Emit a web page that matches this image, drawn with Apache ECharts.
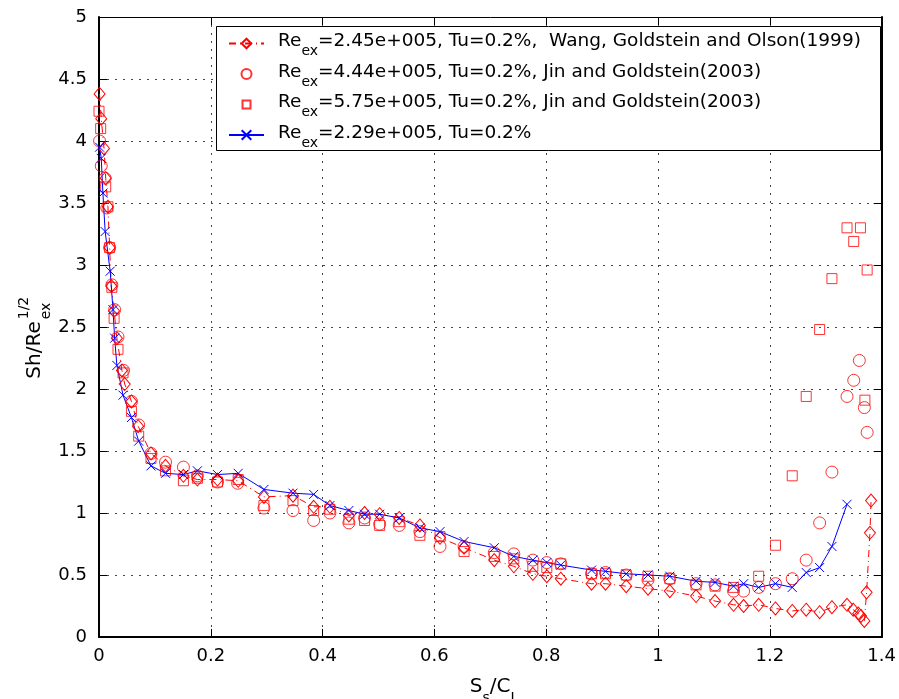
<!DOCTYPE html>
<html>
<head>
<meta charset="utf-8">
<script src="https://cdn.jsdelivr.net/npm/echarts@6/dist/echarts.min.js"></script>
<style>html,body{margin:0;padding:0;background:#fff;}#c{width:899px;height:699px;}</style>
</head>
<body>
<div id="c"></div>
<script>
// ---- data ----
const wangData = [[0.001,4.38],[0.004,4.18],[0.009,3.94],[0.012,3.70],[0.016,3.47],[0.019,3.14],[0.022,2.83],[0.027,2.63],[0.032,2.41],[0.041,2.15],[0.046,2.04],[0.058,1.90],[0.070,1.70],[0.093,1.48],[0.119,1.38],[0.151,1.30],[0.176,1.27],[0.212,1.27],[0.249,1.26],[0.295,1.13],[0.347,1.14],[0.384,1.05],[0.413,1.05],[0.447,0.98],[0.475,1.00],[0.502,0.99],[0.537,0.96],[0.574,0.90],[0.610,0.80],[0.653,0.72],[0.707,0.62],[0.742,0.57],[0.776,0.51],[0.801,0.49],[0.826,0.47],[0.881,0.43],[0.906,0.43],[0.943,0.41],[0.982,0.39],[1.021,0.37],[1.068,0.33],[1.102,0.29],[1.135,0.26],[1.153,0.25],[1.180,0.26],[1.210,0.23],[1.240,0.21],[1.265,0.22],[1.289,0.20],[1.311,0.24],[1.338,0.26],[1.349,0.22],[1.358,0.19],[1.363,0.17],[1.369,0.13],[1.373,0.36],[1.379,0.84],[1.381,1.10]];
const jin444Data = [[0.001,4.00],[0.004,3.80],[0.011,3.70],[0.014,3.46],[0.019,3.14],[0.023,2.84],[0.028,2.64],[0.034,2.42],[0.044,2.15],[0.058,1.90],[0.071,1.71],[0.093,1.48],[0.119,1.41],[0.151,1.37],[0.176,1.30],[0.212,1.25],[0.248,1.24],[0.295,1.04],[0.347,1.02],[0.384,0.94],[0.413,1.00],[0.447,0.92],[0.475,0.96],[0.502,0.91],[0.537,0.90],[0.574,0.85],[0.610,0.73],[0.653,0.73],[0.707,0.68],[0.742,0.67],[0.776,0.62],[0.801,0.60],[0.826,0.59],[0.881,0.51],[0.906,0.52],[0.943,0.50],[0.982,0.46],[1.021,0.47],[1.068,0.43],[1.102,0.42],[1.135,0.37],[1.153,0.37],[1.180,0.40],[1.210,0.43],[1.240,0.47],[1.265,0.62],[1.289,0.92],[1.311,1.33],[1.338,1.94],[1.350,2.07],[1.360,2.23],[1.369,1.85],[1.374,1.65]];
const jin575Data = [[0.000,4.24],[0.003,4.10],[0.012,3.63],[0.016,3.47],[0.019,3.14],[0.023,2.82],[0.027,2.57],[0.034,2.32],[0.043,2.13],[0.058,1.82],[0.071,1.62],[0.093,1.44],[0.119,1.34],[0.151,1.26],[0.176,1.28],[0.212,1.25],[0.249,1.27],[0.295,1.06],[0.347,1.10],[0.384,1.02],[0.413,1.03],[0.447,0.95],[0.475,0.94],[0.502,0.90],[0.537,0.93],[0.574,0.82],[0.610,0.81],[0.653,0.69],[0.707,0.65],[0.742,0.63],[0.776,0.57],[0.801,0.56],[0.826,0.59],[0.881,0.51],[0.906,0.51],[0.943,0.50],[0.982,0.49],[1.021,0.47],[1.068,0.42],[1.102,0.41],[1.135,0.40],[1.180,0.49],[1.210,0.74],[1.240,1.30],[1.265,1.94],[1.289,2.48],[1.311,2.89],[1.338,3.30],[1.350,3.19],[1.362,3.30],[1.374,2.96],[1.370,1.91]];
const presentData = [[0.001,3.95],[0.004,3.86],[0.007,3.58],[0.011,3.27],[0.020,2.95],[0.025,2.64],[0.028,2.41],[0.032,2.19],[0.043,1.95],[0.058,1.77],[0.071,1.58],[0.093,1.38],[0.119,1.32],[0.151,1.31],[0.176,1.34],[0.212,1.31],[0.249,1.32],[0.295,1.19],[0.347,1.16],[0.384,1.15],[0.413,1.06],[0.447,1.02],[0.475,0.99],[0.502,0.99],[0.537,0.96],[0.574,0.88],[0.610,0.85],[0.653,0.77],[0.707,0.72],[0.742,0.65],[0.776,0.62],[0.801,0.60],[0.826,0.58],[0.881,0.54],[0.906,0.53],[0.943,0.51],[0.982,0.50],[1.021,0.49],[1.068,0.45],[1.102,0.44],[1.135,0.41],[1.153,0.43],[1.180,0.40],[1.210,0.43],[1.240,0.40],[1.265,0.52],[1.289,0.56],[1.311,0.73],[1.338,1.07]];
const seriesLabels = [
  '{a|Re}{b|ex}{a|=2.45e+005, Tu=0.2%,  Wang, Goldstein and Olson(1999)}',
  '{a|Re}{b|ex}{a|=4.44e+005, Tu=0.2%, Jin and Goldstein(2003)}',
  '{a|Re}{b|ex}{a|=5.75e+005, Tu=0.2%, Jin and Goldstein(2003)}',
  '{a|Re}{b|ex}{a|=2.29e+005, Tu=0.2%}'
];
const xMin = 0, xMax = 1.4, xStep = 0.2;
const yMin = 0, yMax = 5, yStep = 0.5;

const FONT = 'DejaVu Sans';
const chart = echarts.init(document.getElementById('c'), null, {renderer: 'canvas'});
const gridSplit = {show: true, lineStyle: {color: '#444', width: 1, type: [2, 6]}};
const tickIn = {show: true, inside: true, length: 8, lineStyle: {color: '#000', width: 1}};
const nameMap = {wang: seriesLabels[0], jin444: seriesLabels[1], jin575: seriesLabels[2], present: seriesLabels[3]};
const richMain = {
  a: {fontSize: 18.5, fontFamily: FONT, color: '#000', lineHeight: 20, padding: [0, 0, 4, 0]},
  b: {fontSize: 14, fontFamily: FONT, color: '#000', lineHeight: 13, padding: [16, 0, 0, 0]}
};

chart.setOption({
  animation: false,
  backgroundColor: '#fff',
  grid: {left: 99, right: 13, top: 17, bottom: 62, containLabel: false},
  xAxis: [
    {type: 'value', min: xMin, max: xMax, interval: xStep, position: 'bottom',
     axisLine: {onZero: false, lineStyle: {color: '#000', width: 2}}, axisTick: tickIn,
     axisLabel: {color: '#000', fontSize: 18, fontFamily: FONT, margin: 10},
     splitLine: gridSplit},
    {type: 'value', min: xMin, max: xMax, interval: xStep, position: 'top',
     axisLine: {onZero: false, lineStyle: {color: '#000', width: 1}}, axisTick: tickIn,
     axisLabel: {show: false}, splitLine: {show: false}}
  ],
  yAxis: [
    {type: 'value', min: yMin, max: yMax, interval: yStep, position: 'left',
     axisLine: {onZero: false, show: true, lineStyle: {color: '#000', width: 2}}, axisTick: tickIn,
     axisLabel: {color: '#000', fontSize: 18, fontFamily: FONT, margin: 12},
     splitLine: gridSplit},
    {type: 'value', min: yMin, max: yMax, interval: yStep, position: 'right',
     axisLine: {onZero: false, show: true, lineStyle: {color: '#000', width: 2}}, axisTick: tickIn,
     axisLabel: {show: false}, splitLine: {show: false}}
  ],
  legend: {
    orient: 'vertical', left: 228, top: 28.5, padding: 0, itemGap: 0.5,
    itemWidth: 35, itemHeight: 12,
    data: [
      {name: 'wang'},
      {name: 'jin444', icon: 'path://M0 0M12 12M11 6A5 5 0 1 1 1 6A5 5 0 1 1 11 6Z'},
      {name: 'jin575', icon: 'path://M0 0M12 12M2 2H10V10H2Z'},
      {name: 'present'}
    ],
    formatter: n => nameMap[n],
    textStyle: {padding: [0, 0, 0, 9], rich: richMain},
    z: 5
  },
  graphic: {elements: [
    {type: 'rect', left: 216, top: 26, shape: {width: 664, height: 124}, z: 3,
     style: {fill: '#fff', stroke: '#000', lineWidth: 1}},
    {type: 'text', x: 35, y: 350, rotation: Math.PI / 2, z: 3,
     style: {text: 'Sh/Re', font: '20px "' + FONT + '"', fill: '#000', align: 'center', verticalAlign: 'middle'}},
    {type: 'text', x: 46, y: 311, rotation: Math.PI / 2, z: 3,
     style: {text: 'ex', font: '14px "' + FONT + '"', fill: '#000', align: 'center', verticalAlign: 'middle'}},
    {type: 'text', x: 24, y: 308, rotation: Math.PI / 2, z: 3,
     style: {text: '1/2', font: '14px "' + FONT + '"', fill: '#000', align: 'center', verticalAlign: 'middle'}},
    {type: 'text', x: 494, y: 690, z: 3,
     style: {text: '{a|S}{b|s}{a|/C}{b|L}', align: 'center', verticalAlign: 'middle',
       rich: {a: {fontSize: 20, fontFamily: FONT, color: '#000', lineHeight: 20, padding: [0, 0, 6, 0]},
              b: {fontSize: 14, fontFamily: FONT, color: '#000', lineHeight: 13, padding: [16, 0, 0, 0]}}}}
  ]},
  series: [
    {name: 'wang', type: 'line', data: wangData,
     symbol: 'diamond', symbolSize: [11, 13], showAllSymbol: true,
     lineStyle: {color: '#ff0000', width: 1, type: [7, 4, 1, 4]},
     itemStyle: {color: 'rgba(0,0,0,0)', borderColor: '#ff0000', borderWidth: 1}, z: 2},
    {name: 'jin444', type: 'scatter', data: jin444Data,
     symbol: 'circle', symbolSize: 12,
     itemStyle: {color: 'rgba(0,0,0,0)', borderColor: '#ff0000', borderWidth: 1}, z: 2},
    {name: 'jin575', type: 'scatter', data: jin575Data,
     symbol: 'rect', symbolSize: 10,
     itemStyle: {color: 'rgba(0,0,0,0)', borderColor: '#ff0000', borderWidth: 1}, z: 2},
    {name: 'present', type: 'line', data: presentData,
     symbol: 'path://M0,0L10,10M10,0L0,10', symbolSize: 9, showAllSymbol: true,
     lineStyle: {color: '#0000ff', width: 1},
     itemStyle: {color: 'rgba(0,0,0,0)', borderColor: '#0000ff', borderWidth: 1}, z: 2}
  ]
});
</script>
</body>
</html>
